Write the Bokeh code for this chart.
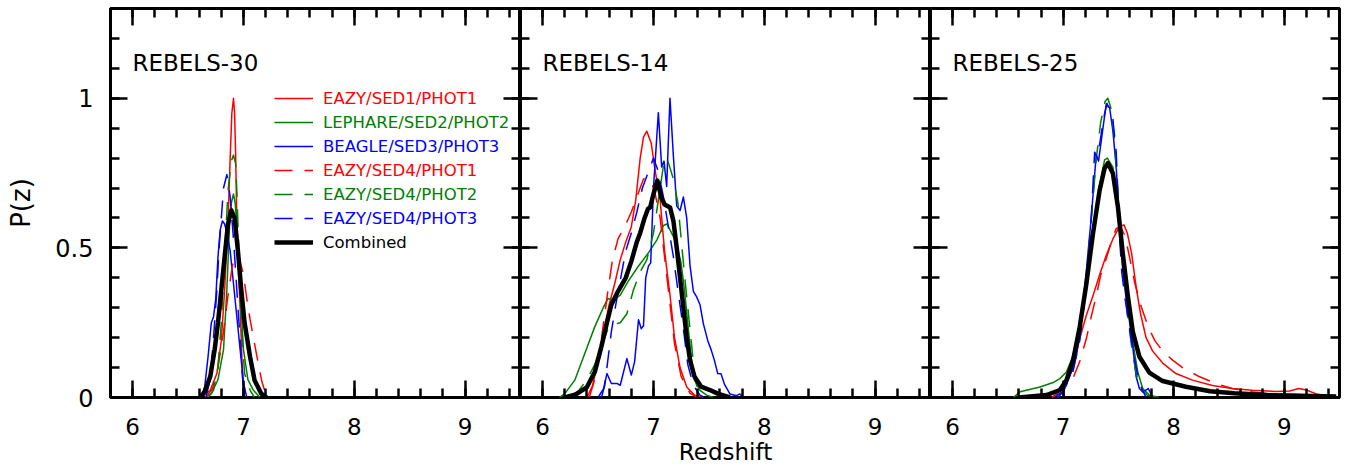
from bokeh.plotting import figure
from bokeh.layouts import row
from bokeh.models import (Range1d, LinearAxis, SingleIntervalTicker, Label,
                          Legend, LegendItem)
from bokeh.embed import file_html
from bokeh.resources import INLINE

# ---------------- labels / styling lists ----------------
panel_names = ["REBELS-30", "REBELS-14", "REBELS-25"]
series_labels = ["EAZY/SED1/PHOT1", "LEPHARE/SED2/PHOT2", "BEAGLE/SED3/PHOT3",
                 "EAZY/SED4/PHOT1", "EAZY/SED4/PHOT2", "EAZY/SED4/PHOT3", "Combined"]
series_colors = ["#ff0000", "#008000", "#0000ff", "#ff0000", "#008000", "#0000ff", "#000000"]
series_dashed = [False, False, False, True, True, True, False]
x_ticks = [6, 7, 8, 9]
y_ticks = [0, 0.5, 1]
y_tick_labels = ["0", "0.5", "1"]
x_label = "Redshift"
y_label = "P(z)"

# ---------------- REBELS-30 ----------------
r30_s1_z = [6.60, 6.64, 6.70, 6.76, 6.80, 6.83, 6.86, 6.88, 6.895, 6.91, 6.92, 6.93, 6.94, 6.955, 6.97, 6.985, 7.00, 7.01]
r30_s1_p = [0.0, 0.007, 0.024, 0.08, 0.19, 0.36, 0.58, 0.80, 0.95, 1.0, 0.95, 0.80, 0.58, 0.42, 0.30, 0.14, 0.024, 0.0]
r30_s2_z = [6.65, 6.71, 6.77, 6.82, 6.85, 6.875, 6.89, 6.91, 6.925, 6.94, 6.97, 7.00, 7.04, 7.09, 7.15]
r30_s2_p = [0.0, 0.012, 0.06, 0.16, 0.36, 0.58, 0.65, 0.68, 0.65, 0.58, 0.36, 0.16, 0.06, 0.024, 0.0]
r30_s3_z = [6.62, 6.65, 6.68, 6.71, 6.73, 6.75, 6.77, 6.79, 6.81, 6.83, 6.85, 6.88, 6.91, 6.94, 6.97, 7.00, 7.03]
r30_s3_p = [0.0, 0.035, 0.135, 0.25, 0.27, 0.33, 0.47, 0.56, 0.59, 0.58, 0.55, 0.49, 0.38, 0.27, 0.16, 0.05, 0.0]
r30_s4_z = [6.66, 6.72, 6.77, 6.82, 6.86, 6.90, 6.93, 6.96, 7.00, 7.03, 7.06, 7.09, 7.12, 7.165, 7.20, 7.22]
r30_s4_p = [0.0, 0.03, 0.10, 0.22, 0.34, 0.44, 0.48, 0.47, 0.41, 0.33, 0.26, 0.20, 0.14, 0.055, 0.012, 0.0]
r30_s5_z = [6.68, 6.73, 6.77, 6.80, 6.83, 6.86, 6.89, 6.91, 6.93, 6.94, 6.96, 6.98, 7.01, 7.06, 7.10]
r30_s5_p = [0.0, 0.025, 0.10, 0.25, 0.47, 0.69, 0.79, 0.81, 0.78, 0.69, 0.47, 0.25, 0.08, 0.024, 0.0]
r30_s6_z = [6.66, 6.70, 6.73, 6.76, 6.78, 6.80, 6.82, 6.85, 6.88, 6.91, 6.94, 6.97, 6.99, 7.01, 7.03]
r30_s6_p = [0.0, 0.06, 0.20, 0.36, 0.50, 0.60, 0.70, 0.745, 0.67, 0.53, 0.36, 0.19, 0.07, 0.015, 0.0]
r30_comb_z = [6.61, 6.65, 6.70, 6.74, 6.77, 6.80, 6.83, 6.86, 6.89, 6.92, 6.95, 6.98, 7.01, 7.06, 7.10, 7.16, 7.21]
r30_comb_p = [0.0, 0.02, 0.07, 0.16, 0.25, 0.36, 0.47, 0.58, 0.626, 0.60, 0.49, 0.36, 0.25, 0.135, 0.058, 0.013, 0.0]

# ---------------- REBELS-14 ----------------
r14_s1_z = [6.40, 6.45, 6.50, 6.55, 6.60, 6.65, 6.70, 6.75, 6.80, 6.84, 6.88, 6.91, 6.94, 6.98, 7.01, 7.06, 7.10, 7.15, 7.19, 7.24, 7.30, 7.37, 7.45]
r14_s1_p = [0.0, 0.04, 0.12, 0.22, 0.31, 0.38, 0.46, 0.52, 0.57, 0.66, 0.80, 0.87, 0.89, 0.85, 0.77, 0.66, 0.49, 0.34, 0.20, 0.10, 0.035, 0.008, 0.0]
r14_s2_z = [6.15, 6.20, 6.29, 6.38, 6.47, 6.55, 6.59, 6.64, 6.70, 6.77, 6.86, 6.95, 7.03, 7.09, 7.12, 7.15, 7.21, 7.25, 7.28, 7.31, 7.34, 7.37, 7.42, 7.48, 7.54]
r14_s2_p = [0.0, 0.013, 0.058, 0.147, 0.236, 0.303, 0.331, 0.325, 0.342, 0.387, 0.437, 0.481, 0.526, 0.575, 0.58, 0.56, 0.514, 0.447, 0.358, 0.247, 0.136, 0.058, 0.024, 0.008, 0.0]
r14_s3_z = [6.50, 6.55, 6.58, 6.62, 6.67, 6.70, 6.76, 6.80, 6.83, 6.865, 6.89, 6.91, 6.93, 6.955, 6.975, 7.00, 7.044, 7.074, 7.095, 7.119, 7.149, 7.18, 7.21, 7.24, 7.27, 7.30, 7.33, 7.36, 7.39, 7.42, 7.45, 7.49, 7.52, 7.55, 7.58, 7.61, 7.64, 7.69, 7.75, 7.78, 7.81]
r14_s3_p = [0.0, 0.03, 0.08, 0.047, 0.047, 0.041, 0.13, 0.075, 0.12, 0.26, 0.23, 0.24, 0.40, 0.44, 0.45, 0.70, 0.952, 0.77, 0.79, 0.705, 1.0, 0.805, 0.64, 0.625, 0.67, 0.60, 0.44, 0.355, 0.336, 0.31, 0.247, 0.19, 0.16, 0.124, 0.08, 0.079, 0.045, 0.012, 0.006, 0.012, 0.0]
r14_s4_z = [6.42, 6.47, 6.51, 6.55, 6.59, 6.63, 6.68, 6.74, 6.80, 6.86, 6.91, 6.94, 6.98, 7.01, 7.06, 7.10, 7.15, 7.19, 7.25, 7.33, 7.40]
r14_s4_p = [0.0, 0.06, 0.14, 0.25, 0.36, 0.46, 0.53, 0.57, 0.62, 0.68, 0.73, 0.735, 0.72, 0.69, 0.60, 0.47, 0.31, 0.18, 0.07, 0.014, 0.0]
r14_s5_z = [6.25, 6.33, 6.40, 6.47, 6.54, 6.60, 6.65, 6.70, 6.76, 6.82, 6.88, 6.94, 7.00, 7.06, 7.10, 7.13, 7.18, 7.22, 7.25, 7.28, 7.31, 7.34, 7.37, 7.40, 7.45]
r14_s5_p = [0.005, 0.025, 0.06, 0.11, 0.18, 0.24, 0.245, 0.25, 0.28, 0.36, 0.42, 0.46, 0.55, 0.70, 0.80, 0.79, 0.73, 0.65, 0.53, 0.41, 0.30, 0.19, 0.08, 0.02, 0.0]
r14_s6_z = [6.53, 6.56, 6.59, 6.62, 6.66, 6.70, 6.75, 6.80, 6.85, 6.90, 6.95, 7.00, 7.04, 7.09, 7.13, 7.18, 7.22, 7.27, 7.31, 7.36, 7.42, 7.46]
r14_s6_p = [0.0, 0.04, 0.13, 0.22, 0.31, 0.39, 0.49, 0.55, 0.62, 0.70, 0.75, 0.80, 0.76, 0.67, 0.58, 0.47, 0.36, 0.23, 0.11, 0.04, 0.008, 0.0]
r14_comb_z = [6.20, 6.30, 6.40, 6.47, 6.53, 6.58, 6.62, 6.68, 6.75, 6.80, 6.85, 6.88, 6.92, 6.95, 6.97, 7.00, 7.035, 7.07, 7.10, 7.15, 7.18, 7.21, 7.24, 7.27, 7.30, 7.33, 7.37, 7.43, 7.51, 7.58, 7.69]
r14_comb_p = [0.0, 0.01, 0.035, 0.085, 0.17, 0.25, 0.31, 0.355, 0.40, 0.455, 0.52, 0.55, 0.60, 0.63, 0.635, 0.68, 0.725, 0.67, 0.645, 0.635, 0.59, 0.50, 0.40, 0.30, 0.20, 0.125, 0.07, 0.036, 0.025, 0.013, 0.0]

# ---------------- REBELS-25 ----------------
r25_s1_z = [6.90, 7.00, 7.09, 7.15, 7.21, 7.27, 7.33, 7.39, 7.45, 7.51, 7.55, 7.58, 7.62, 7.66, 7.70, 7.75, 7.81, 7.90, 8.02, 8.17, 8.35, 8.53, 8.71, 8.92, 9.05, 9.13, 9.20, 9.29, 9.41, 9.50]
r25_s1_p = [0.0, 0.03, 0.097, 0.197, 0.275, 0.34, 0.41, 0.475, 0.53, 0.571, 0.577, 0.55, 0.48, 0.37, 0.28, 0.20, 0.155, 0.115, 0.08, 0.058, 0.04, 0.03, 0.024, 0.02, 0.022, 0.03, 0.025, 0.012, 0.004, 0.0]
r25_s2_z = [6.55, 6.61, 6.79, 6.91, 6.97, 7.03, 7.09, 7.15, 7.21, 7.27, 7.33, 7.375, 7.40, 7.45, 7.495, 7.54, 7.585, 7.63, 7.675, 7.72, 7.78, 7.87]
r25_s2_p = [0.0, 0.019, 0.035, 0.05, 0.063, 0.085, 0.14, 0.242, 0.375, 0.554, 0.71, 0.794, 0.80, 0.77, 0.65, 0.487, 0.32, 0.186, 0.085, 0.03, 0.008, 0.0]
r25_s3_z = [6.91, 7.00, 7.06, 7.12, 7.164, 7.209, 7.254, 7.299, 7.32, 7.36, 7.39, 7.42, 7.45, 7.48, 7.51, 7.54, 7.57, 7.60, 7.63, 7.66, 7.69, 7.72, 7.77, 7.81]
r25_s3_p = [0.0, 0.02, 0.07, 0.14, 0.25, 0.42, 0.60, 0.81, 0.79, 0.90, 0.98, 0.97, 0.89, 0.77, 0.58, 0.42, 0.33, 0.255, 0.17, 0.07, 0.03, 0.018, 0.03, 0.0]
r25_s4_z = [6.90, 7.00, 7.09, 7.15, 7.21, 7.25, 7.30, 7.34, 7.39, 7.435, 7.48, 7.52, 7.56, 7.60, 7.65, 7.70, 7.77, 7.83, 7.90, 7.99, 8.08, 8.23, 8.38, 8.53, 8.68, 8.83, 9.00, 9.15, 9.43, 9.50]
r25_s4_p = [0.0, 0.03, 0.065, 0.12, 0.197, 0.264, 0.34, 0.41, 0.464, 0.52, 0.565, 0.57, 0.54, 0.47, 0.38, 0.31, 0.235, 0.19, 0.155, 0.125, 0.10, 0.07, 0.047, 0.03, 0.02, 0.013, 0.011, 0.01, 0.004, 0.0]
r25_s5_z = [6.95, 7.00, 7.09, 7.15, 7.21, 7.26, 7.30, 7.34, 7.38, 7.404, 7.43, 7.46, 7.49, 7.52, 7.55, 7.58, 7.62, 7.66, 7.70, 7.76, 7.85]
r25_s5_p = [0.0, 0.02, 0.09, 0.20, 0.40, 0.62, 0.80, 0.92, 0.99, 1.0, 0.97, 0.88, 0.72, 0.55, 0.40, 0.28, 0.17, 0.08, 0.03, 0.008, 0.0]
r25_s6_z = [6.95, 7.00, 7.09, 7.15, 7.21, 7.254, 7.285, 7.31, 7.34, 7.37, 7.396, 7.42, 7.45, 7.48, 7.51, 7.53, 7.56, 7.585, 7.63, 7.69, 7.75]
r25_s6_p = [0.0, 0.02, 0.09, 0.19, 0.375, 0.60, 0.82, 0.80, 0.87, 0.94, 0.983, 0.96, 0.93, 0.82, 0.54, 0.42, 0.33, 0.27, 0.158, 0.047, 0.0]
r25_comb_z = [6.60, 6.85, 6.97, 7.03, 7.09, 7.15, 7.21, 7.27, 7.33, 7.375, 7.405, 7.45, 7.495, 7.54, 7.585, 7.63, 7.69, 7.78, 7.90, 8.11, 8.33, 8.55, 8.85, 9.15, 9.47]
r25_comb_p = [0.0, 0.008, 0.025, 0.058, 0.125, 0.236, 0.38, 0.548, 0.693, 0.766, 0.783, 0.749, 0.638, 0.48, 0.34, 0.22, 0.136, 0.083, 0.055, 0.036, 0.021, 0.014, 0.008, 0.006, 0.003]

panel_curves = [
    [(r30_s1_z, r30_s1_p), (r30_s2_z, r30_s2_p), (r30_s3_z, r30_s3_p),
     (r30_s4_z, r30_s4_p), (r30_s5_z, r30_s5_p), (r30_s6_z, r30_s6_p),
     (r30_comb_z, r30_comb_p)],
    [(r14_s1_z, r14_s1_p), (r14_s2_z, r14_s2_p), (r14_s3_z, r14_s3_p),
     (r14_s4_z, r14_s4_p), (r14_s5_z, r14_s5_p), (r14_s6_z, r14_s6_p),
     (r14_comb_z, r14_comb_p)],
    [(r25_s1_z, r25_s1_p), (r25_s2_z, r25_s2_p), (r25_s3_z, r25_s3_p),
     (r25_s4_z, r25_s4_p), (r25_s5_z, r25_s5_p), (r25_s6_z, r25_s6_p),
     (r25_comb_z, r25_comb_p)],
]

FONT = "DejaVu Sans"
BLANK_X = {t: "" for t in x_ticks + [5, 10]}
BLANK_Y = {t: "" for t in y_ticks + [1.5]}


def style_axis(ax, show_labels, blank, size="24px"):
    ax.axis_line_color = None
    ax.major_tick_in = 17
    ax.major_tick_out = 0
    ax.minor_tick_in = 9
    ax.minor_tick_out = 0
    ax.major_tick_line_color = "black"
    ax.minor_tick_line_color = "black"
    ax.major_tick_line_width = 2.5
    ax.minor_tick_line_width = 2.5
    ax.axis_label_text_font = FONT
    ax.axis_label_text_font_style = "normal"
    ax.axis_label_text_color = "black"
    ax.major_label_text_font = FONT
    ax.major_label_text_color = "black"
    if show_labels:
        ax.major_label_text_font_size = size
    else:
        ax.major_label_text_font_size = "1px"
        ax.major_label_standoff = 0
        ax.major_label_overrides = blank


def make_panel(i):
    first, last = i == 0, i == 2
    left = 110 if first else 0
    right = 9 if last else 0
    frame_w = 409 if last else 410
    p = figure(width=left + frame_w + right, height=470,
               x_range=Range1d(5.8, 9.5), y_range=Range1d(0, 1.3),
               min_border_left=left, min_border_right=right,
               min_border_top=8, min_border_bottom=73,
               output_backend="svg", toolbar_location=None,
               background_fill_color="white", border_fill_color="white")
    p.grid.visible = False
    p.outline_line_color = "black"
    p.outline_line_width = 3
    p.add_layout(LinearAxis(), "above")
    p.add_layout(LinearAxis(), "right")
    for ax in p.xaxis:
        ax.ticker = SingleIntervalTicker(interval=1, num_minor_ticks=5)
    for ax in p.yaxis:
        ax.ticker = SingleIntervalTicker(interval=0.5, num_minor_ticks=5)
    bottom = p.below[0]
    leftax = p.left[0]
    style_axis(bottom, True, BLANK_X, "23px")
    style_axis(p.above[0], False, BLANK_X)
    style_axis(p.right[0], False, BLANK_Y)
    style_axis(leftax, first, BLANK_Y)
    bottom.major_label_standoff = 20
    if i == 1:
        bottom.axis_label = x_label
        bottom.axis_label_text_font_size = "23px"
        bottom.axis_label_standoff = 1
    if first:
        leftax.major_label_standoff = 17
        leftax.major_label_overrides = {t: s for t, s in zip(y_ticks, y_tick_labels)}
        leftax.axis_label = y_label
        leftax.axis_label_text_font_size = "26px"
        leftax.axis_label_standoff = 16

    renderers = []
    for k, (z, pz) in enumerate(panel_curves[i]):
        r = p.line(z, pz, line_color=series_colors[k],
                   line_width=4.5 if k == 6 else 1.5,
                   line_dash="18 12" if series_dashed[k] else "solid",
                   line_join="round")
        renderers.append(r)

    p.add_layout(Label(x=22, y=335, x_units="screen", y_units="screen",
                       text=panel_names[i], text_font=FONT,
                       text_font_size="23px", text_baseline="alphabetic",
                       text_color="black"))

    if first:
        for k, r in enumerate(renderers):
            leg = Legend(items=[LegendItem(label=series_labels[k], renderers=[r])],
                         location=(164, 289 - 24 * k),
                         padding=0, margin=0, spacing=0,
                         border_line_color=None, background_fill_alpha=0,
                         glyph_width=39, glyph_height=20, label_height=20,
                         label_standoff=10, label_text_font=FONT,
                         label_text_font_size="16.5px",
                         label_text_color=series_colors[k])
            p.add_layout(leg, "center")
    return p


panels = [make_panel(i) for i in range(3)]
layout = row(*panels)
open("out.html", "w").write(file_html(layout, INLINE))
